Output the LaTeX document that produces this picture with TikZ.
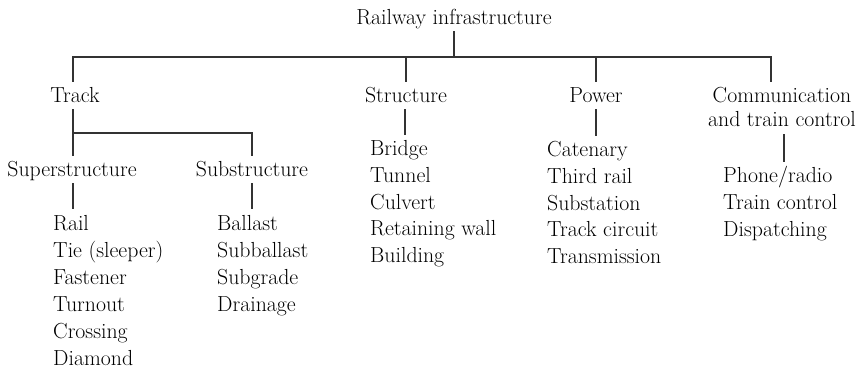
\documentclass[tikz,border=0pt]{standalone}
\usepackage{fontspec}
\begin{document}
\begin{tikzpicture}[x=1pt,y=-1pt,
  lbl/.style={inner sep=0pt, text=black},
  head/.style={lbl, anchor=base, text height=21pt, text depth=6pt, font=\fontsize{21.8}{24}\selectfont},
  items/.style={lbl, anchor=base west, text height=21pt, font=\fontsize{21.8}{27}\selectfont},
  itemsb/.style={items, font=\fontsize{21.8}{26.6}\selectfont},
  conn/.style={line width=1.3pt, draw=black!80}]
\useasboundingbox (0,0) rectangle (861,371);

% headers
\node[head] (root) at (454,25) {Railway infrastructure};
\node[head] (track) at (75,103) {Track};
\node[head] (struct) at (406,103) {Structure};
\node[head] (power) at (596,103) {Power};
\node[head, text depth=31pt] (comm) at (782,103) {\begin{tabular}[t]{@{}c@{}}Communication\\and train control\end{tabular}};
\node[head] (super) at (72,177) {Superstructure};
\node[head] (sub) at (252,177) {Substructure};

% lists
\node[items] (superlist) at (53,230) {\begin{tabular}[t]{@{}l@{}}Rail\\Tie (sleeper)\\Fastener\\Turnout\\Crossing\\Diamond\end{tabular}};
\node[items] (sublist) at (217,230) {\begin{tabular}[t]{@{}l@{}}Ballast\\Subballast\\Subgrade\\Drainage\end{tabular}};
\node[itemsb] (structlist) at (370,156) {\begin{tabular}[t]{@{}l@{}}Bridge\\Tunnel\\Culvert\\Retaining wall\\Building\end{tabular}};
\node[itemsb] (powerlist) at (547,157) {\begin{tabular}[t]{@{}l@{}}Catenary\\Third rail\\Substation\\Track circuit\\Transmission\end{tabular}};
\node[items] (commlist) at (723,183) {\begin{tabular}[t]{@{}l@{}}Phone/radio\\Train control\\Dispatching\end{tabular}};

% connectors
\coordinate (bus) at (456,57);
\coordinate (tbus) at (73,133);
\draw[conn] (root.south) -- (root.south |- bus);
\draw[conn] ([xshift=-2pt]track.north) |- ([xshift=-11pt]comm.north |- bus) -- ([xshift=-11pt]comm.north);
\draw[conn] (struct.north) -- (struct.north |- bus);
\draw[conn] (power.north) -- (power.north |- bus);

\draw[conn] ([xshift=-2pt]track.south) -- ([xshift=1pt]super.north);
\draw[conn] (tbus) -| (sub.north);

\draw[conn] ([xshift=1pt]super.south) -- ([xshift=1pt]super.south |- superlist.north);
\draw[conn] (sub.south) -- (sub.south |- sublist.north);
\draw[conn] ([xshift=-1pt]struct.south) -- ([xshift=-1pt]struct.south |- structlist.north);
\draw[conn] (power.south) -- (power.south |- powerlist.north);
\draw[conn] ([xshift=2pt]comm.south) -- ([xshift=2pt]comm.south |- commlist.north);
\end{tikzpicture}
\end{document}
